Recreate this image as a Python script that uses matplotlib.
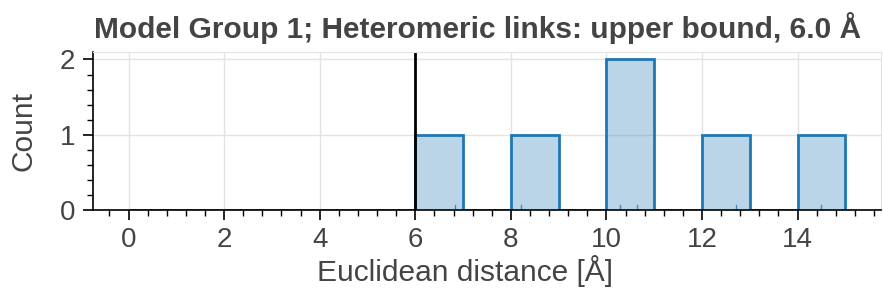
import numpy as np
import matplotlib
matplotlib.use("Agg")
import matplotlib.pyplot as plt
from matplotlib.ticker import AutoMinorLocator

# distances of the heteromeric links
distances = [6.84, 8.22, 10.29, 10.63, 12.72, 14.5]
bin_edges = list(range(0, 16))
upper_bound = 6.0
title = "Model Group 1; Heteromeric links: upper bound, 6.0 Å"

plt.rcParams['font.family'] = ['Liberation Sans', 'DejaVu Sans']
text_col = '#444444'
blue = '#1f77b4'

fig = plt.figure(figsize=(8.83, 2.95), dpi=100)
ax = fig.add_axes([0.105, 0.288, 0.893, 0.536])

# histogram: light fill plus outline
ax.hist(distances, bins=bin_edges, histtype='stepfilled', color=blue, alpha=0.3, lw=0)
ax.hist(distances, bins=bin_edges, histtype='step', color=blue, lw=2)

# rug
for d in distances:
    ax.axvline(d, ymin=0, ymax=0.035, color=blue, lw=1, alpha=0.8)

ax.axvline(upper_bound, color='black', lw=2)

ax.set_xlim(-0.75, 15.75)
ax.set_ylim(0, 2.1)
ax.set_xticks(range(0, 16, 2))
ax.set_yticks([0, 1, 2])
ax.xaxis.set_minor_locator(AutoMinorLocator(5))
ax.yaxis.set_minor_locator(AutoMinorLocator(5))
ax.grid(True, color='#e3e3e3', lw=1)
ax.set_axisbelow(True)

for s in ['top', 'right']:
    ax.spines[s].set_color('#e3e3e3')
for s in ['left', 'bottom']:
    ax.spines[s].set_color('black')
    ax.spines[s].set_linewidth(1.2)

ax.tick_params(which='major', length=7.5, width=1.2, labelsize=20, labelcolor=text_col, pad=5)
ax.tick_params(which='minor', length=4.5, width=1)

ax.set_xlabel('Euclidean distance [Å]', fontsize=21.5, color=text_col, labelpad=1, x=0.472)
ax.set_ylabel('Count', fontsize=21.5, color=text_col, labelpad=16)
ax.set_title(title, fontsize=21.5, fontweight='bold', color=text_col, pad=10, x=0.488)

fig.savefig('out.png', dpi=100)
